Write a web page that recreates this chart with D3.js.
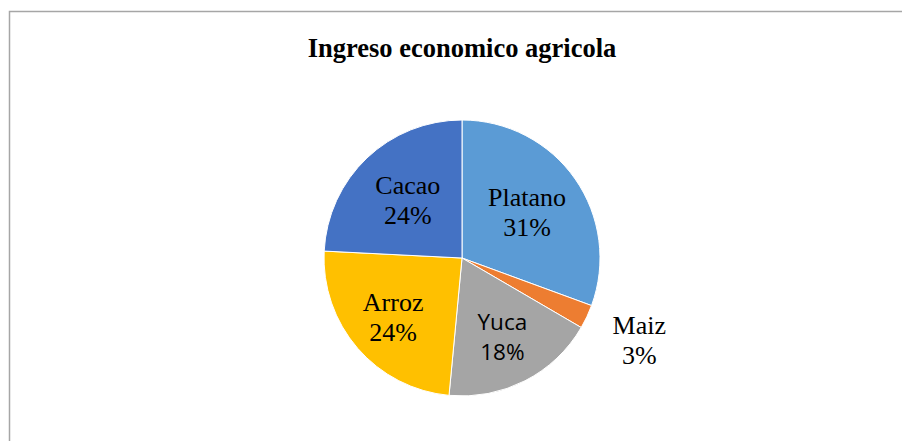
<!DOCTYPE html>
<html>
<head>
<meta charset="utf-8">
<script src="https://cdn.jsdelivr.net/npm/d3@7"></script>
<style>
  html, body { margin: 0; padding: 0; background: #fff; }
  svg { display: block; }
  .serif { font-family: "Liberation Serif", "Times New Roman", Times, "DejaVu Serif", serif; }
  .sans { font-family: "Open Sans", "Noto Sans", "Liberation Sans", sans-serif; }
</style>
</head>
<body>
<svg id="chart" width="902" height="441"></svg>
<script>
// ---- data ----
const title = "Ingreso economico agricola";
const categories = ["Platano", "Maiz", "Yuca", "Arroz", "Cacao"];
const values = [30.6, 2.8, 18.1, 24.3, 24.2];
const colors = ["#5B9BD5", "#ED7D31", "#A5A5A5", "#FFC000", "#4472C4"];
// label distance from center as a fraction of the radius (layout)
const labelRadiusFrac = [0.575, 1.42, 0.64, 0.66, 0.57];
const labelFonts = ["serif", "serif", "sans", "serif", "serif"];

// ---- layout ----
const W = 902, H = 441;
const cx = 462, cy = 258, R = 138;

const svg = d3.select("#chart");

// frame
svg.append("rect")
  .attr("x", 9.5).attr("y", 11.5)
  .attr("width", W + 20).attr("height", H + 20)
  .attr("fill", "none")
  .attr("stroke", "#a6a6a6")
  .attr("stroke-width", 1.5);

// title
svg.append("text")
  .attr("class", "serif")
  .attr("x", cx).attr("y", 57)
  .attr("text-anchor", "middle")
  .style("font-weight", "bold")
  .style("font-size", "26.5px")
  .attr("fill", "#000")
  .text(title);

const data = categories.map((c, i) => ({ name: c, value: values[i], color: colors[i], lr: labelRadiusFrac[i], font: labelFonts[i] }));

const pie = d3.pie().sort(null).value(d => d.value);
const arcs = pie(data);
const arc = d3.arc().innerRadius(0).outerRadius(R);
const total = d3.sum(values);

const g = svg.append("g").attr("transform", `translate(${cx},${cy})`);

g.selectAll("path.slice")
  .data(arcs)
  .join("path")
  .attr("class", "slice")
  .attr("d", arc)
  .attr("fill", d => d.data.color)
  .attr("stroke", "#fff")
  .attr("stroke-width", 1);

const labels = g.selectAll("text.lbl")
  .data(arcs)
  .join("text")
  .attr("class", d => "lbl " + d.data.font)
  .attr("text-anchor", "middle")
  .style("font-size", d => d.data.font === "sans" ? "22.5px" : "26px")
  .attr("fill", "#000")
  .attr("transform", d => {
    const r = R * d.data.lr;
    const c = d3.arc().innerRadius(r).outerRadius(r).centroid(d);
    return `translate(${c[0]},${c[1]})`;
  });

labels.append("tspan").attr("x", 0).attr("y", -7).text(d => d.data.name);
labels.append("tspan").attr("x", 0).attr("y", 23).text(d => d3.format(".0%")(d.data.value / total));
</script>
</body>
</html>
